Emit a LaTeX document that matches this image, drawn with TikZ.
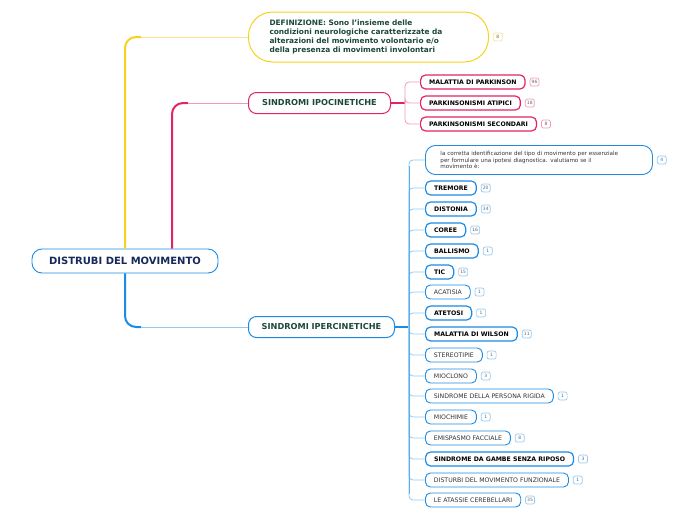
\documentclass[tikz,border=0pt]{standalone}
\usepackage{fontspec}
\setmainfont{DejaVu Sans}
\usepackage{tikz}
\usetikzlibrary{calc,positioning}
\definecolor{ylw}{HTML}{F7D11E}
\definecolor{ylwpale}{HTML}{FBE38C}
\definecolor{rosso}{HTML}{E2245F}
\definecolor{rossopale}{HTML}{F29BB8}
\definecolor{blu}{HTML}{1D8BE3}
\definecolor{blupale}{HTML}{93C9F2}
\definecolor{blumid}{HTML}{5AAEEC}
\definecolor{navy}{HTML}{16295A}
\definecolor{dkgreen}{HTML}{1C4838}
\tikzset{
  leaf/.style={draw=blu, line width=1.2pt, rounded corners=5pt, anchor=west,
    minimum height=14pt, inner xsep=8.5pt, inner ysep=0pt,
    font=\fontsize{6.2}{7}\selectfont\bfseries, text=black},
  leafn/.style={leaf, line width=0.9pt, font=\fontsize{6.2}{7}\selectfont, text=black!80},
  badge/.style={draw=blupale, line width=0.7pt, rounded corners=2pt, inner sep=1pt,
    minimum width=9pt, minimum height=8pt, font=\fontsize{4.5}{5}\selectfont, text=black!60},
  twig/.style={blupale, line width=0.8pt, rounded corners=4pt},
}

\begin{document}
\begin{tikzpicture}[x=1pt,y=-1pt]
      \useasboundingbox (0,0) rectangle (696,520);
      % centre
      \node[draw=blu, line width=0.9pt, rounded corners=10pt, minimum width=186pt, minimum height=24pt,
        font=\fontsize{10}{12}\selectfont\bfseries, text=navy] (root) at (125,261) {DISTRUBI DEL MOVIMENTO};
      % definizione
      \node[draw=ylw, line width=1pt, rounded corners=24pt, anchor=west, text width=198pt, inner xsep=21pt,
        minimum height=50pt, align=left, font=\fontsize{7.4}{9}\selectfont\bfseries, text=dkgreen] (def) at (248,37)
        {DEFINIZIONE: Sono l'insieme delle\\condizioni neurologiche caratterizzate da\\alterazioni del movimento volontario e/o\\della presenza di movimenti involontari};
      \node[badge, draw=ylwpale, right=4pt of def] (defN) {8};
      % ipocinetiche
      \node[draw=rosso, line width=1pt, rounded corners=8pt, anchor=west, minimum width=142pt, minimum height=21pt,
        font=\fontsize{8.2}{10}\selectfont\bfseries, text=dkgreen] (ipo) at (248,103) {SINDROMI IPOCINETICHE};
      \node[leaf, draw=rosso] (park) at (420,82) {MALATTIA DI PARKINSON};
      \node[leaf, draw=rosso] (atip) at (420,103) {PARKINSONISMI ATIPICI};
      \node[leaf, draw=rosso] (second) at (420,124) {PARKINSONISMI SECONDARI};
      \node[badge, draw=rossopale, right=4pt of park] (parkN) {96};
      \node[badge, draw=rossopale, right=4pt of atip] (atipN) {18};
      \node[badge, draw=rossopale, right=4pt of second] (secondN) {8};
      % ipercinetiche
      \node[draw=blu, line width=1pt, rounded corners=8pt, anchor=west, minimum width=146pt, minimum height=21pt,
        font=\fontsize{8.2}{10}\selectfont\bfseries, text=dkgreen] (iper) at (248,327) {SINDROMI IPERCINETICHE};
      \node[leafn, rounded corners=10pt, text width=197pt, inner xsep=15pt, minimum height=29pt, align=left,
        font=\fontsize{5.6}{6.6}\selectfont] (identif) at (425,160)
        {la corretta identificazione del tipo di movimento per essenziale\\per formulare una ipotesi diagnostica. valutiamo se il\\movimento è:};
      \node[leaf] (tremore) at (425,188) {TREMORE};
      \node[leaf] (distonia) at (425,209) {DISTONIA};
      \node[leaf] (coree) at (425,230) {COREE};
      \node[leaf] (ballismo) at (425,251) {BALLISMO};
      \node[leaf] (tic) at (425,272) {TIC};
      \node[leafn] (acatisia) at (425,292) {ACATISIA};
      \node[leaf] (atetosi) at (425,313) {ATETOSI};
      \node[leaf] (wilson) at (425,334) {MALATTIA DI WILSON};
      \node[leafn] (stereo) at (425,355) {STEREOTIPIE};
      \node[leafn] (mioclono) at (425,376) {MIOCLONO};
      \node[leafn] (rigida) at (425,396) {SINDROME DELLA PERSONA RIGIDA};
      \node[leafn] (miochimie) at (425,417) {MIOCHIMIE};
      \node[leafn] (emispasmo) at (425,438) {EMISPASMO FACCIALE};
      \node[leaf] (gambe) at (425,459) {SINDROME DA GAMBE SENZA RIPOSO};
      \node[leafn] (funzionale) at (425,480) {DISTURBI DEL MOVIMENTO FUNZIONALE};
      \node[leafn] (atassie) at (425,500) {LE ATASSIE CEREBELLARI};
      \node[badge, right=4pt of identif] (identifN) {4};
      \node[badge, right=4pt of tremore] (tremoreN) {20};
      \node[badge, right=4pt of distonia] (distoniaN) {34};
      \node[badge, right=4pt of coree] (coreeN) {16};
      \node[badge, right=4pt of ballismo] (ballismoN) {1};
      \node[badge, right=4pt of tic] (ticN) {15};
      \node[badge, right=4pt of acatisia] (acatisiaN) {1};
      \node[badge, right=4pt of atetosi] (atetosiN) {1};
      \node[badge, right=4pt of wilson] (wilsonN) {11};
      \node[badge, right=4pt of stereo] (stereoN) {1};
      \node[badge, right=4pt of mioclono] (mioclonoN) {3};
      \node[badge, right=4pt of rigida] (rigidaN) {1};
      \node[badge, right=4pt of miochimie] (miochimieN) {1};
      \node[badge, right=4pt of emispasmo] (emispasmoN) {8};
      \node[badge, right=4pt of gambe] (gambeN) {3};
      \node[badge, right=4pt of funzionale] (funzionaleN) {1};
      \node[badge, right=4pt of atassie] (atassieN) {35};
      % rami principali
      \coordinate (ipoStart) at ([xshift=47pt]root.north);
      \coordinate (defBend) at ($(root.north |- def.west)+(16,0)$);
      \coordinate (ipoBend) at ($(ipoStart |- ipo.west)+(16,0)$);
      \coordinate (iperBend) at ($(root.south |- iper.west)+(16,0)$);
      \draw[ylw, line width=2pt, rounded corners=11pt] (root.north) |- (defBend);
      \draw[ylwpale, line width=1pt] (defBend) -- (def.west);
      \draw[rosso, line width=2pt, rounded corners=11pt] (ipoStart) |- (ipoBend);
      \draw[rossopale, line width=1pt] (ipoBend) -- (ipo.west);
      \draw[blu, line width=2pt, rounded corners=11pt] (root.south) |- (iperBend);
      \draw[blupale, line width=1pt] (iperBend) -- (iper.west);
      % rami secondari
      \draw[rosso, line width=1.2pt] (ipo.east) -- ++(14,0) coordinate (ipoJ);
      \draw[twig, rossopale] (ipoJ) |- (park.west);
      \draw[twig, rossopale] (ipoJ) |- (atip.west);
      \draw[twig, rossopale] (ipoJ) |- (second.west);
      \draw[blu, line width=1.6pt] (iper.east) -- ++(14,0) coordinate (iperJ);
      \draw[twig] (iperJ) |- (identif.west);
      \draw[twig] (iperJ) |- (tremore.west);
      \draw[twig] (iperJ) |- (distonia.west);
      \draw[twig] (iperJ) |- (coree.west);
      \draw[twig] (iperJ) |- (ballismo.west);
      \draw[twig] (iperJ) |- (tic.west);
      \draw[twig] (iperJ) |- (acatisia.west);
      \draw[twig] (iperJ) |- (atetosi.west);
      \draw[twig] (iperJ) |- (wilson.west);
      \draw[twig] (iperJ) |- (stereo.west);
      \draw[twig] (iperJ) |- (mioclono.west);
      \draw[twig] (iperJ) |- (rigida.west);
      \draw[twig] (iperJ) |- (miochimie.west);
      \draw[twig] (iperJ) |- (emispasmo.west);
      \draw[twig] (iperJ) |- (gambe.west);
      \draw[twig] (iperJ) |- (funzionale.west);
      \draw[twig] (iperJ) |- (atassie.west);
      \draw[blumid, line width=0.9pt] ($(iperJ |- identif.west)+(0,6)$) -- ($(iperJ |- atassie.west)+(0,-6)$);
\end{tikzpicture}
\end{document}
